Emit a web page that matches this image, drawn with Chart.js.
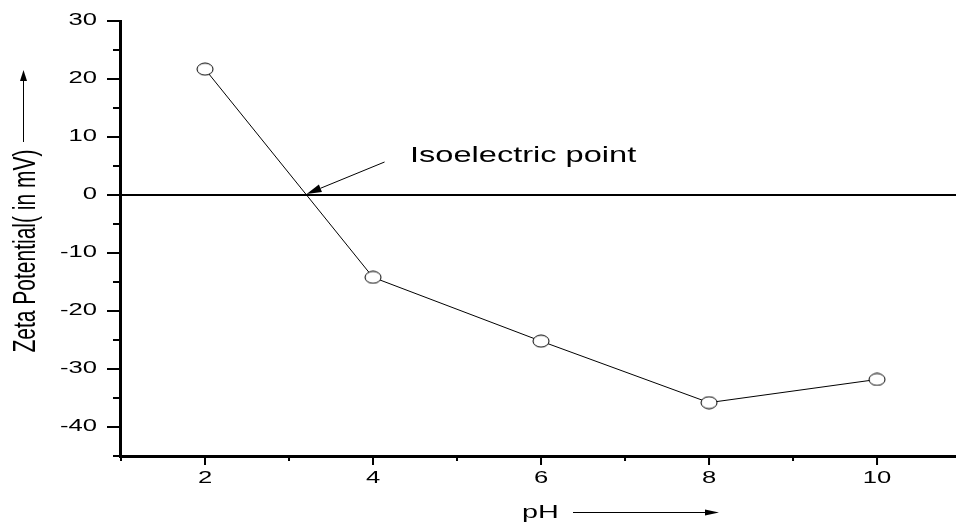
<!DOCTYPE html>
<html>
<head>
<meta charset="utf-8">
<script src="https://cdn.jsdelivr.net/npm/chart.js@4"></script>
<style>
  html, body { margin: 0; padding: 0; background: #fff; overflow: hidden; }
  #zetaChart { display: block; }
</style>
</head>
<body>
<canvas id="zetaChart" width="956" height="522"></canvas>
<script>
// pH vs zeta potential
const phValues = [2, 4, 6, 8, 10];
const zetaValues = [21.7, -14.2, -25.2, -35.8, -31.8];
const xTicks = [2, 4, 6, 8, 10];
const xMinorTicks = [1, 3, 5, 7, 9];
const yTicks = [30, 20, 10, 0, -10, -20, -30, -40];
const yMinorTicks = [25, 15, 5, -5, -15, -25, -35, -45];

const FONT = "'Liberation Sans', Arial, sans-serif";

// open ellipse marker
function makeMarker() {
  const c = document.createElement('canvas');
  c.width = 18;
  c.height = 14;
  const g = c.getContext('2d');
  g.beginPath();
  g.ellipse(9, 7, 8, 6, 0, 0, Math.PI * 2);
  g.fillStyle = '#fff';
  g.fill();
  g.lineWidth = 1;
  g.strokeStyle = '#000';
  g.stroke();
  return c;
}

// text drawn wide, like the rest of the figure
function wideText(ctx, txt, x, y, sx, align) {
  ctx.save();
  ctx.translate(x, y);
  ctx.scale(sx, 1);
  ctx.textAlign = align;
  ctx.fillText(txt, 0, 0);
  ctx.restore();
}

function arrow(ctx, x0, y0, x1, y1, headLen, headHalf) {
  const ang = Math.atan2(y1 - y0, x1 - x0);
  const bx = x1 - headLen * Math.cos(ang);
  const by = y1 - headLen * Math.sin(ang);
  ctx.beginPath();
  ctx.moveTo(x0, y0);
  ctx.lineTo(bx, by);
  ctx.stroke();
  ctx.beginPath();
  ctx.moveTo(x1, y1);
  ctx.lineTo(bx + headHalf * Math.sin(ang), by - headHalf * Math.cos(ang));
  ctx.lineTo(bx - headHalf * Math.sin(ang), by + headHalf * Math.cos(ang));
  ctx.closePath();
  ctx.fill();
}

const zeroLine = {
  id: 'zeroLine',
  beforeDatasetsDraw(chart) {
    const { ctx, chartArea, scales } = chart;
    const y0 = scales.y.getPixelForValue(0);
    ctx.save();
    ctx.strokeStyle = '#000';
    ctx.lineWidth = 2;
    ctx.beginPath();
    ctx.moveTo(chartArea.left, y0);
    ctx.lineTo(chartArea.right, y0);
    ctx.stroke();
    ctx.restore();
  }
};

const axesAndNotes = {
  id: 'axesAndNotes',
  afterDraw(chart) {
    const { ctx, chartArea, scales } = chart;
    const xs = scales.x, ys = scales.y;
    const left = chartArea.left, bottom = chartArea.bottom;
    ctx.save();
    ctx.strokeStyle = '#000';
    ctx.fillStyle = '#000';

    // axis lines
    ctx.lineWidth = 3;
    ctx.beginPath();
    ctx.moveTo(left - 0.5, chartArea.top - 1);
    ctx.lineTo(left - 0.5, bottom + 2);
    ctx.moveTo(left - 2, bottom + 0.5);
    ctx.lineTo(chartArea.right, bottom + 0.5);
    ctx.stroke();

    // tick marks
    ctx.lineWidth = 2;
    ctx.beginPath();
    yTicks.forEach(v => {
      const p = ys.getPixelForValue(v);
      ctx.moveTo(left - 14, p);
      ctx.lineTo(left, p);
    });
    yMinorTicks.forEach(v => {
      const p = ys.getPixelForValue(v);
      ctx.moveTo(left - 8, p);
      ctx.lineTo(left, p);
    });
    xTicks.forEach(v => {
      const p = xs.getPixelForValue(v);
      ctx.moveTo(p, bottom);
      ctx.lineTo(p, bottom + 9);
    });
    xMinorTicks.forEach(v => {
      const p = xs.getPixelForValue(v);
      ctx.moveTo(p, bottom);
      ctx.lineTo(p, bottom + 5);
    });
    ctx.stroke();

    // tick labels
    ctx.font = '16px ' + FONT;
    ctx.textBaseline = 'middle';
    yTicks.forEach(v => {
      wideText(ctx, String(v), left - 24, ys.getPixelForValue(v), 1.6, 'right');
    });
    xTicks.forEach(v => {
      wideText(ctx, String(v), xs.getPixelForValue(v), bottom + 23, 1.6, 'center');
    });

    // x title with arrow
    ctx.font = '18px ' + FONT;
    ctx.textBaseline = 'alphabetic';
    wideText(ctx, 'pH', 522, 518, 1.6, 'left');
    ctx.lineWidth = 1;
    arrow(ctx, 573, 512.5, 719, 512.5, 14, 3);

    // y title with arrow
    ctx.save();
    ctx.translate(35, 251);
    ctx.rotate(-Math.PI / 2);
    ctx.scale(1, 1.5);
    ctx.font = '21px ' + FONT;
    ctx.textAlign = 'center';
    ctx.fillText('Zeta Potential( in mV)', 0, 0);
    ctx.restore();
    arrow(ctx, 23.5, 142, 23.5, 70, 11, 3.5);

    // isoelectric point: where the line crosses zero
    let xIso = null;
    for (let i = 1; i < phValues.length; i++) {
      const a = zetaValues[i - 1], b = zetaValues[i];
      if (a >= 0 && b < 0) {
        xIso = phValues[i - 1] + (phValues[i] - phValues[i - 1]) * a / (a - b);
        break;
      }
    }
    if (xIso !== null) {
      const tx = xs.getPixelForValue(xIso);
      const ty = ys.getPixelForValue(0) - 1;
      arrow(ctx, tx + 78, ty - 32, tx, ty, 15, 4);
    }
    ctx.font = '22px ' + FONT;
    wideText(ctx, 'Isoelectric point', 410, 162, 1.48, 'left');

    ctx.restore();
  }
};

new Chart(document.getElementById('zetaChart'), {
  type: 'line',
  data: {
    datasets: [{
      data: phValues.map((x, i) => ({ x: x, y: zetaValues[i] })),
      borderColor: '#000',
      borderWidth: 1,
      pointStyle: makeMarker(),
      pointRadius: 8,
      tension: 0,
      fill: false
    }]
  },
  options: {
    responsive: false,
    animation: false,
    layout: {
      autoPadding: false,
      padding: { left: 121, right: 0, top: 21, bottom: 66 }
    },
    plugins: {
      legend: { display: false },
      tooltip: { enabled: false }
    },
    scales: {
      x: { type: 'linear', min: 1, max: 10.94, display: false },
      y: { type: 'linear', min: -45, max: 30, display: false }
    }
  },
  plugins: [zeroLine, axesAndNotes]
});
</script>
</body>
</html>
